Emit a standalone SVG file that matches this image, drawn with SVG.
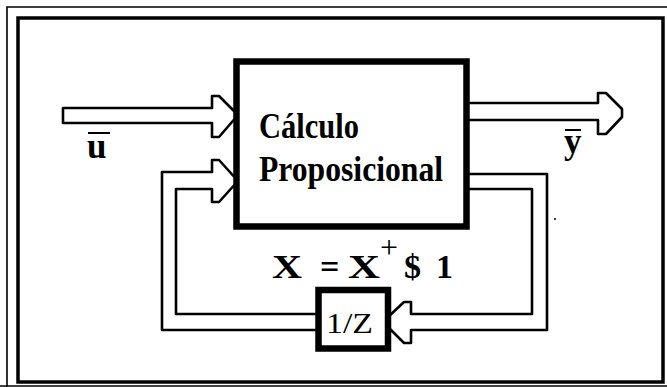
<svg xmlns="http://www.w3.org/2000/svg" width="667" height="387" viewBox="0 0 667 387">
<style>
.frame{fill:none;stroke:#000}
.arrow{fill:#fff;stroke:#000;stroke-width:2.6;stroke-linejoin:round}
.box{fill:#fff;stroke:#000;stroke-width:6.5}
.lbl{font-family:"Liberation Serif",serif;font-weight:bold;fill:#000}
.main{font-family:"Liberation Serif",serif;font-weight:bold;fill:#000;font-size:35px}
</style>
<rect width="667" height="387" fill="#fff"/>
<g id="frame">
<path class="frame" stroke-width="1.6" d="M7,387 V7 H667"/>
<path class="frame" stroke-width="1.4" d="M0,386 H667"/>
<rect class="frame" stroke-width="3.5" x="18" y="18" width="645" height="364"/>
</g>
<g id="connectors">
<path class="arrow" d="M63,108 H212 V96 H219 L238,115 L219,137 H212 V123 H63 Z"/>
<path class="arrow" d="M466,103 H598 V93 H606 L622,109 V117 L606,134 H598 V120 H466 Z"/>
<path class="arrow" d="M318,330 H162 V172 H212 V160 H219 L238,181 L219,202 H212 V189 H176 V314 H318 Z"/>
<path class="arrow" d="M466,174 H547 V330 H411 V343 H404 L387,326 V318 L404,302 H411 V314 H532 V189 H466 Z"/>
</g>
<g id="calc">
<rect class="box" x="236.5" y="61.5" width="230" height="165"/>
<text class="main" x="259" y="138" textLength="100" lengthAdjust="spacingAndGlyphs">Cálculo</text>
<text class="main" x="259" y="181" textLength="184" lengthAdjust="spacingAndGlyphs">Proposicional</text>
</g>
<g id="delay">
<rect class="box" x="318.5" y="290" width="69.5" height="58.5"/>
<text x="326" y="333" font-family="Liberation Serif,serif" font-size="30" textLength="47" lengthAdjust="spacingAndGlyphs">1/Z</text>
</g>
<g id="eq" class="lbl" font-size="34">
<text x="272" y="278" textLength="30" lengthAdjust="spacingAndGlyphs">X</text>
<text x="320" y="278">=</text>
<text x="348" y="278" textLength="32" lengthAdjust="spacingAndGlyphs">X</text>
<text x="380" y="258" font-size="32" font-weight="normal">+</text>
<text x="404" y="278">$</text>
<text x="436" y="278">1</text>
</g>
<g id="u-label">
<text class="lbl" x="87" y="158" font-size="35">u</text>
<line x1="88" y1="133" x2="110" y2="133" stroke="#000" stroke-width="2"/>
</g>
<g id="y-label">
<text class="lbl" x="564" y="153" font-size="35">y</text>
<line x1="565" y1="130" x2="581" y2="130" stroke="#000" stroke-width="2"/>
</g>
<circle cx="555" cy="219" r="1" fill="#000"/>
</svg>
